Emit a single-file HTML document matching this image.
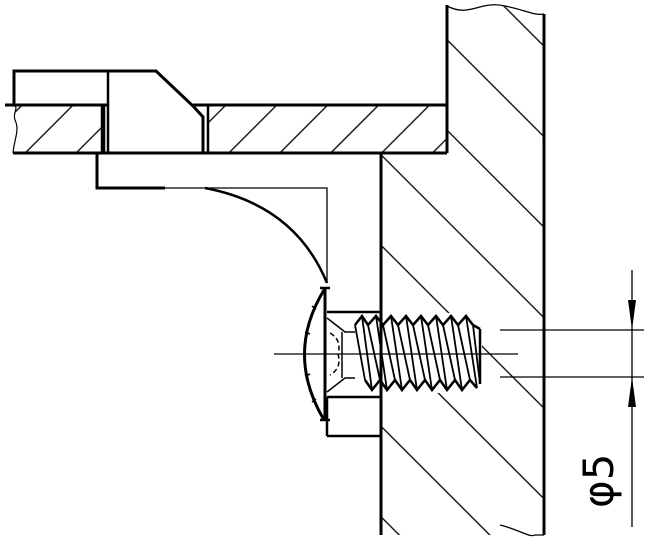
<!DOCTYPE html>
<html><head><meta charset="utf-8"><style>html,body{margin:0;padding:0;background:#fff}svg{display:block}</style></head><body>
<svg width="648" height="558" viewBox="0 0 648 558" xmlns="http://www.w3.org/2000/svg">
<defs>
<pattern id="ph" patternUnits="userSpaceOnUse" width="36" height="36" patternTransform="rotate(45)">
<line x1="18" y1="-1" x2="18" y2="37" stroke="#000" stroke-width="1.3"/></pattern>
<pattern id="wh" patternUnits="userSpaceOnUse" width="64" height="64" patternTransform="rotate(-45)">
<line x1="32" y1="-1" x2="32" y2="65" stroke="#000" stroke-width="1.3"/></pattern>
</defs>
<g fill="none" stroke="#000">
<path d="M447,6 C470,18 480,0 505,6 C525,10 535,16 544,14 L544,535 L381,535 L381,153 L447,153 Z" fill="url(#wh)" stroke="none"/>
<path d="M13,105 L102,105 L102,153 L13,153 C14,140 20,130 15,120 C12,112 20,108 13,105Z" fill="url(#ph)" stroke="none"/>
<rect x="208" y="105" width="239" height="48" fill="url(#ph)" stroke="none"/>
<rect x="300" y="285" width="81" height="155" fill="#fff" stroke="none"/>
<rect x="352" y="313" width="130" height="80" fill="#fff" stroke="none"/>
<path d="M447,5 L447,153" stroke-width="3"/>
<path d="M544,14 L544,535" stroke-width="3"/>
<path d="M381,153 L381,535" stroke-width="3"/>
<path d="M447,6 C470,18 480,0 505,6 C525,10 535,16 544,14" stroke-width="1.3"/>
<path d="M500,525 C520,530 530,538 535,535 L544,535" stroke-width="1.3"/>
<path d="M14,105 L14,71 L156,71 L193,106 L203,117 L203,153" stroke-width="3"/>
<path d="M108,71 L108,153 M102,105 L102,153 M104,105 L104,153 M208,105 L208,153" stroke-width="2.5"/>
<path d="M5,105 L108,105 M193,105 L447,105 M13,153 L447,153" stroke-width="3"/>
<path d="M13,105 C20,108 12,112 15,120 C20,130 14,140 13,153" stroke-width="1.2"/>
<path d="M97,153 L97,188 L165,188" stroke-width="3"/>
<path d="M165,188 L327,188 L327,283" stroke-width="1.3"/>
<path d="M205,188 Q295,205 327,283" stroke-width="2.5"/>
<path d="M325,288 L325,420" stroke-width="3"/>
<path d="M324,290 Q285,354 324,420" stroke-width="3"/>
<path d="M320,288 L330,288 M320,420 L330,420" stroke-width="2.5"/>
<path d="M305,332 l5,2 M305,376 l5,-2 M312,306 l4,3 M312,402 l4,-3" stroke-width="1.5"/>
<path d="M327,312 L381,312 M327,397 L381,397 M327,436 L381,436 M327,397 L327,436" stroke-width="2.5"/>
<path d="M327,318 L345,332 L355,332 M327,392 L345,378 L355,378 M342,332 L342,378" stroke-width="1.5"/>
<path d="M330,333 Q342,340 338,354 Q342,368 330,375" stroke-width="1.5" stroke-dasharray="5,3"/>
<path d="M355,325 L362,316 L368,325 L376,316 L383,325 L391,316 L398,325 L406,316 L413,325 L421,316 L428,325 L436,316 L443,325 L451,316 L458,325 L466,316 L473,325 L480,329" stroke-width="2.5"/>
<path d="M365,380 L372,390 L380,380 L387,390 L395,380 L402,390 L410,380 L417,390 L425,380 L432,390 L440,380 L447,390 L455,380 L462,390 L470,380 L477,388" stroke-width="2.5"/>
<path d="M355,325 L365,380 M362,316 L372,390 M368,325 L380,380 M376,316 L387,390 M383,325 L395,380 M391,316 L402,390 M398,325 L410,380 M406,316 L417,390 M413,325 L425,380 M421,316 L432,390 M428,325 L440,380 M436,316 L447,390 M443,325 L455,380 M451,316 L462,390 M458,325 L470,380 M466,316 L477,388 M473,325 L480,384" stroke-width="1.8"/>
<path d="M480,329 L480,384" stroke-width="2.5"/>
<path d="M274,354 L518,354" stroke-width="1.2"/>
<path d="M500,330 L644,330 M500,377 L644,377" stroke-width="1.3"/>
<path d="M632,270 L632,527" stroke-width="1.3"/>
<path d="M628,300 L636,300 L632,330Z M628,407 L636,407 L632,377Z" fill="#000" stroke="none"/>
</g>
<text transform="translate(613,508) rotate(-90)" font-family="DejaVu Sans, sans-serif" font-size="42" fill="#000">φ5</text>
</svg>
</body></html>
